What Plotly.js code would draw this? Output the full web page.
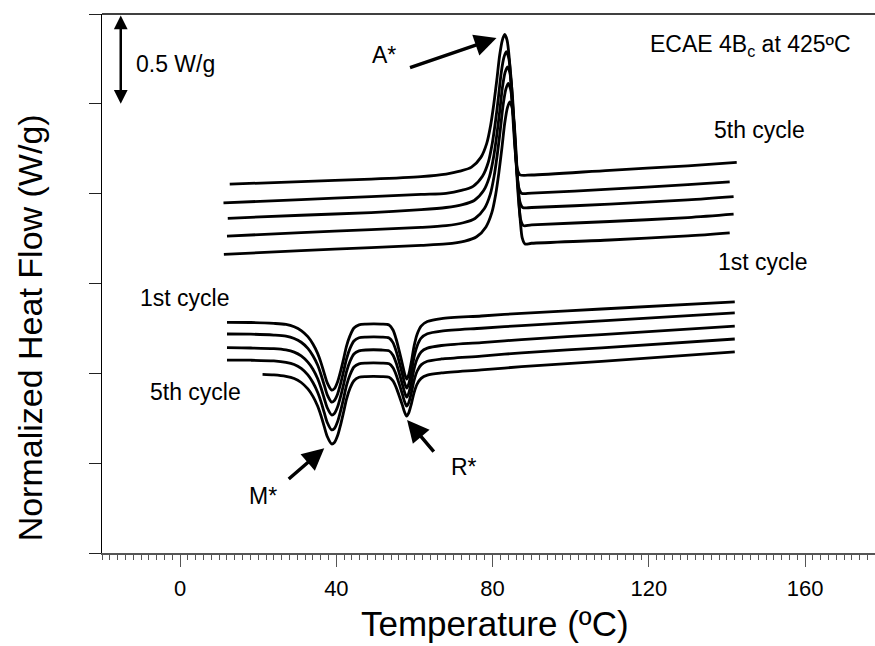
<!DOCTYPE html>
<html>
<head>
<meta charset="utf-8">
<script src="https://cdn.plot.ly/plotly-3.0.1.min.js"></script>
<style>html,body{margin:0;padding:0;background:#fff;}#chart{width:875px;height:646px;}</style>
</head>
<body>
<div id="chart"></div>
<script>
// ---- Heating curves (upper set, A* peak) ----
const heatX1 = [11.2, 31.0, 48.9, 61.7, 68.1, 72.9, 75.9, 78.3, 79.8, 80.8, 81.6, 82.4, 83.1, 83.8, 84.4, 85.0, 85.6, 86.1, 86.6, 87.1, 87.6, 88.3, 90.0, 110.0, 130.0, 140.7];
const heatY1 = [1.662, 1.683, 1.700, 1.712, 1.720, 1.736, 1.760, 1.815, 1.894, 1.997, 2.116, 2.258, 2.392, 2.479, 2.511, 2.479, 2.369, 2.195, 2.005, 1.847, 1.752, 1.720, 1.724, 1.742, 1.765, 1.782];
const heatX2 = [12.0, 31.0, 48.9, 61.7, 68.1, 72.5, 75.5, 77.9, 79.4, 80.4, 81.2, 82.0, 82.7, 83.4, 84.0, 84.6, 85.2, 85.7, 86.2, 86.7, 87.2, 87.9, 90.0, 110.0, 130.0, 141.7];
const heatY2 = [1.764, 1.783, 1.800, 1.812, 1.822, 1.838, 1.862, 1.917, 1.996, 2.099, 2.218, 2.361, 2.495, 2.582, 2.614, 2.582, 2.471, 2.297, 2.107, 1.949, 1.854, 1.822, 1.826, 1.845, 1.867, 1.886];
const heatX3 = [12.2, 31.0, 48.9, 61.7, 68.1, 72.3, 75.3, 77.7, 79.2, 80.2, 81.0, 81.8, 82.5, 83.2, 83.8, 84.4, 85.0, 85.5, 86.0, 86.5, 87.0, 87.7, 90.0, 110.0, 130.0, 141.7];
const heatY3 = [1.863, 1.880, 1.895, 1.911, 1.923, 1.939, 1.962, 2.017, 2.095, 2.197, 2.315, 2.455, 2.589, 2.675, 2.706, 2.675, 2.565, 2.393, 2.205, 2.048, 1.954, 1.923, 1.923, 1.942, 1.965, 1.983];
const heatX4 = [11.1, 31.0, 48.9, 61.7, 68.1, 72.0, 75.0, 77.4, 78.9, 79.9, 80.7, 81.5, 82.2, 82.9, 83.5, 84.1, 84.7, 85.2, 85.7, 86.2, 86.7, 87.4, 90.0, 110.0, 130.0, 140.7];
const heatY4 = [1.949, 1.967, 1.984, 1.996, 2.002, 2.018, 2.041, 2.097, 2.175, 2.278, 2.396, 2.538, 2.672, 2.758, 2.790, 2.758, 2.648, 2.475, 2.286, 2.128, 2.034, 2.002, 2.003, 2.025, 2.050, 2.066];
const heatX5 = [12.7, 31.0, 48.9, 61.7, 68.1, 71.6, 74.6, 77.0, 78.5, 79.5, 80.3, 81.1, 81.8, 82.5, 83.1, 83.7, 84.3, 84.8, 85.3, 85.8, 86.3, 87.0, 90.0, 110.0, 130.0, 142.5];
const heatY5 = [2.053, 2.067, 2.081, 2.095, 2.109, 2.125, 2.148, 2.202, 2.280, 2.381, 2.498, 2.637, 2.769, 2.855, 2.886, 2.855, 2.746, 2.575, 2.389, 2.233, 2.140, 2.105, 2.104, 2.130, 2.155, 2.174];

// ---- Cooling curves (lower set, M* and R* dips) ----
const coolX = [12.0, 18.1, 24.0, 27.1, 29.2, 31.0, 32.7, 34.0, 35.2, 36.1, 36.9, 37.7, 38.8, 39.5, 40.3, 41.1, 41.9, 42.6, 43.5, 44.5, 45.8, 47.6, 51.5, 53.5, 54.5, 55.3, 56.1, 56.9, 57.5, 58.0, 58.5, 59.2, 59.9, 60.7, 61.7, 63.3, 66.9, 77.1, 87.4, 107.9, 142.0];
const coolY1 = [1.284, 1.283, 1.278, 1.272, 1.259, 1.238, 1.204, 1.163, 1.111, 1.057, 1.000, 0.946, 0.907, 0.915, 0.952, 1.013, 1.085, 1.152, 1.210, 1.252, 1.270, 1.274, 1.274, 1.269, 1.241, 1.191, 1.124, 1.052, 0.996, 0.968, 0.991, 1.063, 1.152, 1.219, 1.263, 1.288, 1.305, 1.319, 1.334, 1.358, 1.398];
const coolY2 = [1.219, 1.218, 1.213, 1.207, 1.194, 1.173, 1.139, 1.098, 1.046, 0.991, 0.934, 0.879, 0.840, 0.849, 0.884, 0.944, 1.016, 1.081, 1.139, 1.180, 1.198, 1.202, 1.202, 1.197, 1.171, 1.125, 1.063, 0.996, 0.944, 0.918, 0.939, 1.007, 1.091, 1.154, 1.196, 1.220, 1.235, 1.251, 1.266, 1.292, 1.336];
const coolY3 = [1.143, 1.141, 1.137, 1.130, 1.118, 1.097, 1.062, 1.023, 0.971, 0.917, 0.860, 0.807, 0.768, 0.776, 0.812, 0.872, 0.943, 1.009, 1.067, 1.108, 1.125, 1.130, 1.130, 1.125, 1.101, 1.059, 1.001, 0.939, 0.892, 0.868, 0.887, 0.949, 1.025, 1.081, 1.119, 1.140, 1.155, 1.171, 1.188, 1.216, 1.263];
const coolY4 = [1.074, 1.073, 1.069, 1.061, 1.049, 1.027, 0.991, 0.949, 0.895, 0.840, 0.781, 0.725, 0.685, 0.693, 0.730, 0.792, 0.865, 0.933, 0.992, 1.035, 1.053, 1.057, 1.057, 1.053, 1.031, 0.992, 0.940, 0.884, 0.840, 0.818, 0.835, 0.892, 0.961, 1.013, 1.047, 1.067, 1.080, 1.096, 1.114, 1.142, 1.191];
const coolX5 = [21.1, 24.0, 27.1, 29.2, 31.0, 32.7, 34.0, 35.2, 36.1, 36.9, 37.7, 38.8, 39.5, 40.3, 41.1, 41.9, 42.6, 43.5, 44.5, 45.8, 47.6, 51.5, 53.5, 54.5, 55.3, 56.1, 56.9, 57.5, 58.0, 58.5, 59.2, 59.9, 60.7, 61.7, 63.3, 66.9, 77.1, 87.4, 107.9, 142.0];
const coolY5 = [0.994, 0.991, 0.983, 0.971, 0.949, 0.913, 0.872, 0.818, 0.762, 0.703, 0.647, 0.607, 0.615, 0.652, 0.715, 0.789, 0.857, 0.917, 0.959, 0.978, 0.982, 0.982, 0.978, 0.958, 0.922, 0.874, 0.823, 0.782, 0.762, 0.778, 0.830, 0.893, 0.941, 0.972, 0.990, 1.002, 1.019, 1.037, 1.067, 1.119];

// ---- Axis ticks ----
const xTickVals = [0, 40, 80, 120, 160];
const xTickText = ['0', '40', '80', '120', '160'];
const xRange = [-20, 177.9];
const yRange = [0, 3];

const FONT = 'Arial, "Liberation Sans", sans-serif';
const lineStyle = {color: '#000', width: 2.8, shape: 'spline', smoothing: 0.8};

const series = [
  ['Heating, 1st cycle', heatX1, heatY1],
  ['Heating, 2nd cycle', heatX2, heatY2],
  ['Heating, 3rd cycle', heatX3, heatY3],
  ['Heating, 4th cycle', heatX4, heatY4],
  ['Heating, 5th cycle', heatX5, heatY5],
  ['Cooling, 1st cycle', coolX, coolY1],
  ['Cooling, 2nd cycle', coolX, coolY2],
  ['Cooling, 3rd cycle', coolX, coolY3],
  ['Cooling, 4th cycle', coolX, coolY4],
  ['Cooling, 5th cycle', coolX5, coolY5]
];
const traces = series.map(s => ({
  type: 'scatter', mode: 'lines', name: s[0], x: s[1], y: s[2],
  line: lineStyle, hoverinfo: 'x+y+name'
}));

const txt = (text, x, y, extra) => Object.assign({
  text: text, x: x, y: y, xref: 'x', yref: 'y', showarrow: false,
  font: {family: FONT, size: 23, color: '#000'}
}, extra || {});
const arrow = (x, y, ax, ay) => ({
  text: '', x: x, y: y, xref: 'x', yref: 'y', ax: ax, ay: ay,
  showarrow: true, arrowhead: 2, arrowsize: 1.25, arrowwidth: 3.5, arrowcolor: '#000', standoff: 0
});

const annotations = [
  txt('0.5 W/g', -11.9, 2.721, {xanchor: 'left'}),
  txt('ECAE 4B<sub>c</sub> at 425ºC', 146.1, 2.827),
  txt('A*', 52.2, 2.771),
  txt('M*', 21.2, 0.317),
  txt('R*', 72.7, 0.479),
  txt('5th cycle', 148.4, 2.354),
  txt('1st cycle', 149.1, 1.619),
  txt('1st cycle', 1.2, 1.419),
  txt('5th cycle', 4.0, 0.896),
  arrow(81.0, 2.866, -88, 30),
  arrow(36.9, 0.583, -37, 32),
  arrow(58.1, 0.740, 28, 33),
  {text: '', x: -15.2, y: 2.5, xref: 'x', yref: 'y', ax: -15.2, ay: 3.0, axref: 'x', ayref: 'y',
   showarrow: true, arrowside: 'end+start', arrowhead: 2, startarrowhead: 2,
   arrowsize: 1.1, startarrowsize: 1.1, arrowwidth: 2.5, arrowcolor: '#000', standoff: 0, startstandoff: 0},
  // axis titles
  {text: 'Temperature (ºC)', xref: 'paper', yref: 'paper', x: 0.508, y: -0.13,
   xanchor: 'center', yanchor: 'middle', showarrow: false,
   font: {family: FONT, size: 35, color: '#000'}},
  {text: 'Normalized Heat Flow (W/g)', xref: 'paper', yref: 'paper', x: -0.093, y: 0.417,
   xanchor: 'center', yanchor: 'middle', textangle: -90, showarrow: false,
   font: {family: FONT, size: 34, color: '#000'}}
];

const layout = {
  width: 875, height: 646,
  margin: {l: 102, r: 0, t: 14, b: 93},
  paper_bgcolor: '#fff', plot_bgcolor: '#fff',
  showlegend: false,
  font: {family: FONT, color: '#000'},
  xaxis: {
    range: xRange, tickmode: 'array', tickvals: xTickVals, ticktext: xTickText,
    ticks: 'outside', ticklen: 12, tickwidth: 1, tickcolor: '#555',
    showline: true, linecolor: '#555', linewidth: 1.5,
    showgrid: false, zeroline: false,
    tickfont: {family: FONT, size: 22, color: '#000'},
    ticklabelstandoff: 3,
    minor: {dtick: 2, tick0: 0, ticks: 'outside', ticklen: 5, tickwidth: 1, tickcolor: '#555', showgrid: false}
  },
  xaxis2: {
    range: xRange, overlaying: 'x', anchor: 'y', side: 'bottom',
    tickmode: 'linear', tick0: 0, dtick: 10,
    ticks: 'outside', ticklen: 8.5, tickwidth: 1, tickcolor: '#555',
    showticklabels: false, showgrid: false, zeroline: false, showline: false
  },
  yaxis: {
    range: yRange, tickmode: 'linear', tick0: 0, dtick: 0.5,
    ticks: 'outside', ticklen: 12, tickwidth: 1, tickcolor: '#222',
    showticklabels: false, showline: true, linecolor: '#000', linewidth: 1.5,
    showgrid: false, zeroline: false
  },
  shapes: [
    {type: 'line', xref: 'paper', yref: 'paper', x0: 0, x1: 1, y0: 1, y1: 1, line: {color: '#000', width: 1.5}}
  ],
  annotations: annotations
};

Plotly.newPlot('chart', traces, layout, {displayModeBar: false, staticPlot: true});
</script>
</body>
</html>
